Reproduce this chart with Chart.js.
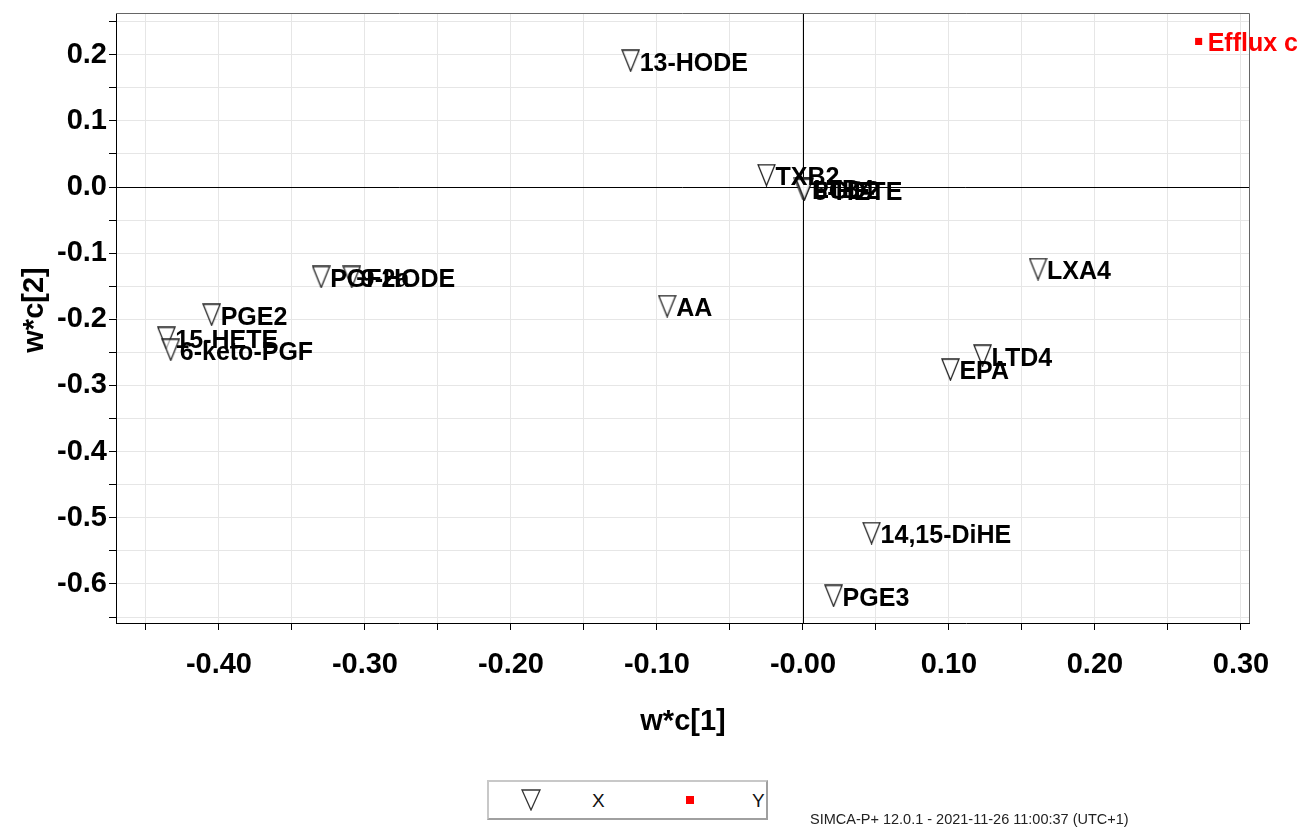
<!DOCTYPE html>
<html>
<head>
<meta charset="utf-8">
<script src="https://cdn.jsdelivr.net/npm/chart.js@4.4.1/dist/chart.umd.min.js"></script>
<style>
  html, body { margin: 0; padding: 0; background: #fff; }
  #wrap { position: relative; width: 1297px; height: 827px; overflow: hidden; font-family: "Liberation Sans", Arial, sans-serif; }
  #plot { position: absolute; left: 0; top: 0; }
  .legend { position: absolute; left: 487px; top: 780px; width: 281px; height: 40px; box-sizing: border-box;
            border: 2px solid #c8c8c8; border-right-color: #a0a0a0; border-bottom-color: #a0a0a0; background: #fff; }
  .legend span { position: absolute; top: 8px; font-size: 19px; color: #111; }
  .legend svg { position: absolute; }
  .footer { position: absolute; left: 810px; top: 811px; font-size: 14.5px; color: #222; white-space: nowrap; }
</style>
</head>
<body>
<div id="wrap">
  <canvas id="plot" width="1297" height="827"></canvas>
  <div class="legend">
    <svg style="left:32px;top:7px" width="20" height="22"><polygon points="1,1 19,1 10,21" fill="#fff" stroke="#333" stroke-width="1.3"/></svg>
    <span style="left:103px">X</span>
    <svg style="left:197px;top:14px" width="9" height="9"><rect x="0" y="0" width="8" height="8" fill="#ff0000"/></svg>
    <span style="left:263px">Y</span>
  </div>
  <div class="footer">SIMCA-P+ 12.0.1 - 2021-11-26 11:00:37 (UTC+1)</div>
</div>
<script>
(function(){
    'use strict';

    // X variables (w*c[1], w*c[2])
    const xNames = ['13-HODE', 'TXB2', 'PGD2', 'LTB4', '5-HETE', 'LXA4', 'AA', 'LTD4', 'EPA',
                    '14,15-DiHE', 'PGE3', 'PGE2', '15-HETE', '6-keto-PGF', 'PGF2a', '9-HODE'];
    const xW1 = [-0.118, -0.025, 0.000, 0.001, 0.001, 0.161, -0.093, 0.123, 0.101,
                 0.047, 0.021, -0.405, -0.436, -0.433, -0.330, -0.309];
    const xW2 = [0.191, 0.018, -0.003, -0.002, -0.004, -0.124, -0.180, -0.255, -0.276,
                 -0.523, -0.618, -0.193, -0.228, -0.246, -0.136, -0.136];

    // Y variable
    const yNames = ['Efflux capacity'];
    const yW1 = [0.271];
    const yW2 = [0.220];

    const xRange = [-0.4705, 0.3055];
    const yRange = [-0.659, 0.263];
    const tickStep = 0.05;

    const FONT = '"Liberation Sans", Arial, sans-serif';

    function qs(id){ return document.getElementById(id); }

    // tall open triangle pointing down, like SIMCA's marker
    function makeTriangle(){
        const c = document.createElement('canvas');
        c.width = 19; c.height = 23;
        const g = c.getContext('2d');
        g.beginPath();
        g.moveTo(1, 1); g.lineTo(18, 1); g.lineTo(9.5, 22); g.closePath();
        g.fillStyle = 'rgba(255,255,255,0.6)';
        g.fill();
        g.strokeStyle = '#222';
        g.lineWidth = 1.3;
        g.stroke();
        return c;
    }

    function stepTicks(range){
        const out = [];
        const start = Math.ceil(range[0] / tickStep - 1e-9);
        const end = Math.floor(range[1] / tickStep + 1e-9);
        for(let i = start; i <= end; i++) out.push({ value: +(i * tickStep).toFixed(2) });
        return out;
    }

    function isMajor(v){
        return Math.abs(Math.round(v * 10) - v * 10) < 1e-6;
    }

    const pointLabels = {
        id: 'pointLabels',
        beforeDatasetsDraw(chart){
            const { ctx, chartArea: a, scales } = chart;
            const x0 = Math.round(scales.x.getPixelForValue(0)) + 0.5;
            const y0 = Math.round(scales.y.getPixelForValue(0)) + 0.5;
            ctx.save();
            ctx.strokeStyle = '#000';
            ctx.lineWidth = 1;
            ctx.beginPath();
            ctx.moveTo(x0, a.top); ctx.lineTo(x0, a.bottom);
            ctx.moveTo(a.left, y0); ctx.lineTo(a.right, y0);
            ctx.stroke();
            // top and right frame
            ctx.strokeStyle = '#666';
            ctx.beginPath();
            ctx.moveTo(a.left, a.top + 0.5); ctx.lineTo(a.right + 0.5, a.top + 0.5); ctx.lineTo(a.right + 0.5, a.bottom);
            ctx.stroke();
            ctx.restore();
        },
        afterDatasetsDraw(chart){
            const { ctx } = chart;
            ctx.save();
            ctx.font = 'bold 25px ' + FONT;
            ctx.textBaseline = 'middle';
            chart.data.datasets.forEach((ds, di) => {
                const meta = chart.getDatasetMeta(di);
                ctx.fillStyle = ds.labelColor;
                meta.data.forEach((pt, i) => {
                    ctx.fillText(ds.names[i], pt.x + 9, pt.y + 3);
                });
            });
            // axis titles
            ctx.fillStyle = '#000';
            ctx.font = 'bold 29px ' + FONT;
            ctx.textAlign = 'center';
            ctx.fillText('w*c[1]', 683, 722);
            ctx.translate(35, 310);
            ctx.rotate(-Math.PI / 2);
            ctx.fillText('w*c[2]', 0, 0);
            ctx.restore();
        }
    };

    function axis(range, fmt, fitKey, fitVal, tickPad){
        return {
            type: 'linear',
            min: range[0],
            max: range[1],
            afterBuildTicks(scale){ scale.ticks = stepTicks(range); },
            afterFit(scale){
                scale[fitKey] = fitVal;
                scale.paddingTop = 0; scale.paddingBottom = 0;
                scale.paddingLeft = 0; scale.paddingRight = 0;
            },
            grid: { color: '#e6e6e6', tickColor: '#000', tickLength: 7, lineWidth: 1 },
            border: { color: '#000', width: 1 },
            ticks: {
                autoSkip: false,
                maxRotation: 0,
                padding: tickPad,
                color: '#000',
                font: { family: FONT, size: 29, weight: 'bold' },
                callback: v => isMajor(v) ? fmt(v) : ''
            }
        };
    }

    const triangle = makeTriangle();

    new Chart(qs('plot').getContext('2d'), {
        type: 'scatter',
        data: {
            datasets: [
                {
                    label: 'X',
                    names: xNames,
                    labelColor: '#000',
                    data: xW1.map((v, i) => ({ x: v, y: xW2[i] })),
                    pointStyle: triangle,
                    pointRadius: 10,
                    pointHoverRadius: 10
                },
                {
                    label: 'Y',
                    names: yNames,
                    labelColor: '#ff0000',
                    data: yW1.map((v, i) => ({ x: v, y: yW2[i] })),
                    pointStyle: 'rect',
                    pointRadius: 5,
                    pointHoverRadius: 5,
                    backgroundColor: '#ff0000',
                    borderColor: '#ff0000',
                    borderWidth: 0
                }
            ]
        },
        options: {
            responsive: false,
            animation: false,
            events: [],
            layout: { padding: { left: 0, top: 13, right: 48, bottom: 0 } },
            scales: {
                x: axis(xRange, v => v === 0 ? '-0.00' : v.toFixed(2), 'height', 204, 18),
                y: axis(yRange, v => v.toFixed(1), 'width', 116, 2)
            },
            plugins: {
                legend: { display: false },
                tooltip: { enabled: false }
            }
        },
        plugins: [pointLabels]
    });
})();
</script>
</body>
</html>
